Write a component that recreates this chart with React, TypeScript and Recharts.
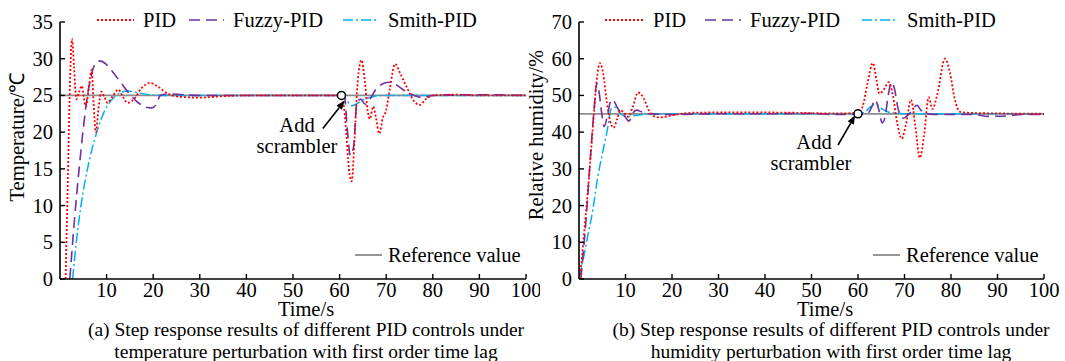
import React from 'react'
import { LineChart, Line, XAxis, YAxis, ReferenceLine, ReferenceDot } from 'recharts'

// (a) temperature, [time s, value]
const pidTemp: [number, number][] = [
  [1.2, 0], [1.7, 14], [2.2, 28], [2.6, 32.7], [3.0, 29], [3.5, 24.5], [4.1, 25.5], [4.7, 26.3],
  [5.1, 24.8], [5.5, 23.5], [6.2, 26], [6.8, 28.5], [7.2, 24], [7.7, 20], [8.3, 23.5], [8.9, 25.5],
  [9.5, 24.8], [10.2, 24], [11.2, 24.8], [12.5, 25.8], [13.5, 24.8], [14.5, 24], [16, 24.6],
  [17.5, 26], [19.3, 26.7], [21, 26.2], [23, 25.3], [26, 24.8], [30, 24.7], [35, 24.9], [40, 25],
  [50, 25], [58, 25], [60.5, 25], [61.3, 21], [62, 15], [62.6, 13.3], [63.2, 19], [63.9, 27],
  [64.7, 29.8], [65.4, 27], [66, 23], [66.5, 21.8], [67.2, 23.5], [67.8, 22], [68.5, 19.8],
  [69.3, 22], [70, 23], [70.8, 26], [71.9, 29.3], [73, 28], [74.5, 26], [76, 24.2], [77.2, 23.7],
  [78.5, 24.5], [80, 25], [85, 25.1], [90, 25], [100, 25],
]
const fuzzyTemp: [number, number][] = [
  [2.1, 0], [3.1, 8], [4.1, 15], [5.0, 20.5], [5.9, 25], [6.8, 28], [7.6, 29.3], [8.6, 29.7],
  [9.8, 29.3], [11.2, 28.3], [13, 26.8], [15.2, 25], [17, 23.9], [18.5, 23.4], [19.7, 23.3],
  [20.7, 23.8], [21.5, 25], [23, 25.2], [30, 25], [50, 25], [61, 25], [61.7, 20], [62.3, 16.8],
  [63, 18], [63.7, 24], [64.5, 24.5], [65.5, 23.8], [66.5, 24.5], [68, 26], [70.5, 26.8],
  [72, 26.5], [74, 25.6], [76, 25], [78, 24.7], [80, 25], [90, 25.1], [100, 25],
]
const smithTemp: [number, number][] = [
  [2.7, 0], [3.5, 5], [4.5, 10], [5.9, 15], [7.9, 20], [9.5, 22.8], [11.4, 24.6], [13, 25.4],
  [14.6, 25.6], [16.5, 25.4], [19, 25.1], [22, 25], [60.5, 25], [61.5, 24.4], [62.5, 23.6],
  [63.5, 23.8], [65, 24.4], [67, 24.8], [70, 25], [100, 25],
]

// (b) humidity, [time s, value]
const pidHum: [number, number][] = [
  [0.2, 0], [1.2, 14], [2.3, 30], [3.2, 45], [3.8, 54], [4.5, 58.8], [5.2, 56], [6, 48], [6.7, 43],
  [7.4, 41.2], [8.2, 43.5], [8.9, 46], [9.7, 45.2], [10.6, 44.2], [11.6, 47], [12.7, 50.8],
  [13.8, 49.5], [15, 46], [16.2, 44.3], [17.4, 44], [19, 44.3], [21, 44.8], [25, 45.3], [35, 45.4],
  [45, 45.3], [55, 45.1], [60, 45.2], [61, 47], [62, 53], [63.2, 58.8], [64, 54], [64.6, 50.5],
  [65.5, 51.5], [66.6, 53.6], [67.5, 50], [68.5, 42], [69.4, 38.2], [70.3, 42], [71.4, 48.8],
  [72.3, 42], [73.3, 33], [74.2, 39], [75.2, 49.5], [76, 46.3], [77, 50], [78.7, 60], [79.8, 56],
  [80.8, 49], [82, 45.5], [85, 45.2], [100, 45],
]
const fuzzyHum: [number, number][] = [
  [0.4, 0], [1.5, 16], [2.5, 34], [3.3, 47], [3.8, 53.3], [4.3, 51], [4.9, 45], [5.4, 41.5],
  [6.2, 45], [6.9, 48.8], [7.5, 48.5], [8.3, 46.5], [9.5, 45], [10.8, 43], [11.5, 45], [12.4, 46],
  [13.5, 45.5], [15, 45], [20, 44.8], [30, 45], [40, 45], [50, 45.1], [55, 44.8], [60, 44.8],
  [62, 45], [63, 47], [63.7, 48.8], [64.5, 46], [65.2, 42.5], [65.8, 44], [66.5, 50], [67.2, 53.6],
  [67.8, 52], [68.7, 46], [69.8, 43.8], [71, 45], [72.7, 47.3], [73.5, 46], [74.8, 45], [77, 44.8],
  [85, 44.8], [88, 44.3], [92, 44.4], [95, 44.8], [100, 44.8],
]
const smithHum: [number, number][] = [
  [0, 0.5], [1, 6], [2, 12.5], [3, 19], [4, 27.5], [5, 34], [6, 40], [7, 46.5], [7.8, 46.8],
  [8.8, 45.3], [10, 44.2], [12, 44.5], [15, 44.9], [20, 45], [60, 45], [61.5, 45.5], [62.8, 47],
  [63.9, 47.6], [65, 46.5], [66.5, 45.5], [68, 45.2], [70, 45], [100, 45],
]

const xTicks = [10, 20, 30, 40, 50, 60, 70, 80, 90, 100]
const tempTicks = [0, 5, 10, 15, 20, 25, 30, 35]
const humTicks = [0, 10, 20, 30, 40, 50, 60, 70]
const seriesNames = ['PID', 'Fuzzy-PID', 'Smith-PID']

const FONT = '"Liberation Serif", "Times New Roman", serif'
const FS = 20.5
const RED = '#ff0000'
const PURPLE = '#7030a0'
const CYAN = '#00b0f0'
const GRAY = '#8c8c8c'

const toRows = (pts: [number, number][]) => pts.map(([t, v]) => ({ t, v }))

const XTick = (props: any) => {
  const { x, y, payload } = props
  return (
    <text x={x} y={y + 23} textAnchor="middle" fontFamily={FONT} fontSize={FS} fill="#000">
      {payload.value}
    </text>
  )
}

const YTick = (props: any) => {
  const { x, y, payload } = props
  return (
    <text x={x - 12} y={y + 7} textAnchor="end" fontFamily={FONT} fontSize={FS} fill="#000">
      {payload.value}
    </text>
  )
}

const Arrow = (props: any) => {
  const { x1, y1, x2, y2 } = props
  const a = Math.atan2(y2 - y1, x2 - x1)
  const len = 9
  const w = 3.5
  const bx = x2 - len * Math.cos(a)
  const by = y2 - len * Math.sin(a)
  const px = -Math.sin(a) * w
  const py = Math.cos(a) * w
  return (
    <g>
      <line x1={x1} y1={y1} x2={bx} y2={by} stroke="#000" strokeWidth={1.6} />
      <polygon points={`${x2},${y2} ${bx + px},${by + py} ${bx - px},${by - py}`} fill="#000" />
    </g>
  )
}

interface PanelProps {
  pid: [number, number][]
  fuzzy: [number, number][]
  smith: [number, number][]
  yTicks: number[]
  yMax: number
  refVal: number
  arrowFrom: [number, number]
  arrowTo: [number, number]
  dotAt: [number, number]
  width: number
  margin: { top: number; right: number; bottom: number; left: number }
}

function Panel(p: PanelProps) {
  return (
    <LineChart width={p.width} height={361} margin={p.margin}>
      <XAxis
        type="number"
        dataKey="t"
        domain={[0, 100]}
        ticks={xTicks}
        height={40}
        tickSize={-5}
        tickMargin={0}
        tick={<XTick />}
        axisLine={{ stroke: '#000', strokeWidth: 1.6 }}
        tickLine={{ stroke: '#000', strokeWidth: 1.4 }}
        allowDataOverflow
      />
      <YAxis
        type="number"
        dataKey="v"
        domain={[0, p.yMax]}
        ticks={p.yTicks}
        width={30}
        tickSize={-5}
        tickMargin={0}
        tick={<YTick />}
        axisLine={{ stroke: '#000', strokeWidth: 1.6 }}
        tickLine={{ stroke: '#000', strokeWidth: 1.4 }}
        allowDataOverflow
      />
      <ReferenceLine y={p.refVal} stroke={GRAY} strokeWidth={1.8} />
      <Line data={toRows(p.smith)} dataKey="v" type="monotone" stroke={CYAN} strokeWidth={1.5}
        strokeDasharray="10 3 2 3" dot={false} isAnimationActive={false} />
      <Line data={toRows(p.fuzzy)} dataKey="v" type="monotone" stroke={PURPLE} strokeWidth={1.6}
        strokeDasharray="11 6" dot={false} isAnimationActive={false} />
      <Line data={toRows(p.pid)} dataKey="v" type="monotone" stroke={RED} strokeWidth={1.8}
        strokeDasharray="2 2" dot={false} isAnimationActive={false} />
      <ReferenceLine
        segment={[{ x: p.arrowFrom[0], y: p.arrowFrom[1] }, { x: p.arrowTo[0], y: p.arrowTo[1] }]}
        shape={<Arrow />}
      />
      <ReferenceDot x={p.dotAt[0]} y={p.dotAt[1]} r={4} fill="#fff" stroke="#000" strokeWidth={1.5} />
    </LineChart>
  )
}

function LegendRow({ x, gaps }: { x: number[]; gaps: number[] }) {
  const styles = [
    { stroke: RED, dash: '2 2', w: 1.8 },
    { stroke: PURPLE, dash: '11 6', w: 1.6 },
    { stroke: CYAN, dash: '10 3 2 3', w: 1.5 },
  ]
  return (
    <g>
      {styles.map((s, i) => (
        <g key={i}>
          <line x1={x[i]} y1={20} x2={x[i] + gaps[i]} y2={20} stroke={s.stroke} strokeWidth={s.w} strokeDasharray={s.dash} />
          <text x={x[i] + gaps[i] + 9} y={27} fontFamily={FONT} fontSize={FS}>{seriesNames[i]}</text>
        </g>
      ))}
    </g>
  )
}

export default function App() {
  const txt = { fontFamily: FONT, fontSize: FS, fill: '#000' }
  const cap = { fontFamily: FONT, fontSize: 19.5, fill: '#000' }
  return (
    <div style={{ position: 'absolute', left: 0, top: 0, width: 1065, height: 361, background: '#fff', overflow: 'hidden' }}>
      <div style={{ position: 'absolute', left: 0, top: 0 }}>
        <Panel pid={pidTemp} fuzzy={fuzzyTemp} smith={smithTemp} yTicks={tempTicks} yMax={35} refVal={25}
          arrowFrom={[56.4, 20.5]} arrowTo={[61.1, 24.3]} dotAt={[60.4, 25]}
          width={540} margin={{ top: 22, right: 14, bottom: 42, left: 30 }} />
      </div>
      <div style={{ position: 'absolute', left: 530, top: 0 }}>
        <Panel pid={pidHum} fuzzy={fuzzyHum} smith={smithHum} yTicks={humTicks} yMax={70} refVal={45}
          arrowFrom={[55.7, 36.5]} arrowTo={[59.4, 44.6]} dotAt={[60, 45]}
          width={535} margin={{ top: 22, right: 21, bottom: 42, left: 19 }} />
      </div>
      <svg width={1065} height={361} style={{ position: 'absolute', left: 0, top: 0, pointerEvents: 'none' }}>
        <LegendRow x={[97, 189, 343]} gaps={[37, 35, 36]} />
        <LegendRow x={[605, 705, 862]} gaps={[39, 36, 36]} />

        <line x1={355} y1={255} x2={382} y2={255} stroke={GRAY} strokeWidth={1.8} />
        <text x={388} y={262} {...txt}>Reference value</text>
        <line x1={873} y1={255} x2={900} y2={255} stroke={GRAY} strokeWidth={1.8} />
        <text x={906} y={262} {...txt}>Reference value</text>

        <text x={297} y={132} textAnchor="middle" {...txt}>Add</text>
        <text x={297} y={153} textAnchor="middle" {...txt}>scrambler</text>
        <text x={814} y={149} textAnchor="middle" {...txt}>Add</text>
        <text x={811} y={170} textAnchor="middle" {...txt}>scrambler</text>

        <text transform="translate(24,137) rotate(-90)" textAnchor="middle" {...txt}>Temperature/℃</text>
        <text transform="translate(543,135) rotate(-90)" textAnchor="middle" {...txt}>Relative humidity/%</text>

        <text x={306} y={316} textAnchor="middle" {...txt}>Time/s</text>
        <text x={825} y={316} textAnchor="middle" {...txt}>Time/s</text>

        <text x={306} y={336} textAnchor="middle" {...cap}>(a) Step response results of different PID controls under</text>
        <text x={306} y={357.5} textAnchor="middle" {...cap}>temperature perturbation with first order time lag</text>
        <text x={831} y={336} textAnchor="middle" {...cap}>(b) Step response results of different PID controls under</text>
        <text x={831} y={357.5} textAnchor="middle" {...cap}>humidity perturbation with first order time lag</text>
      </svg>
    </div>
  )
}
